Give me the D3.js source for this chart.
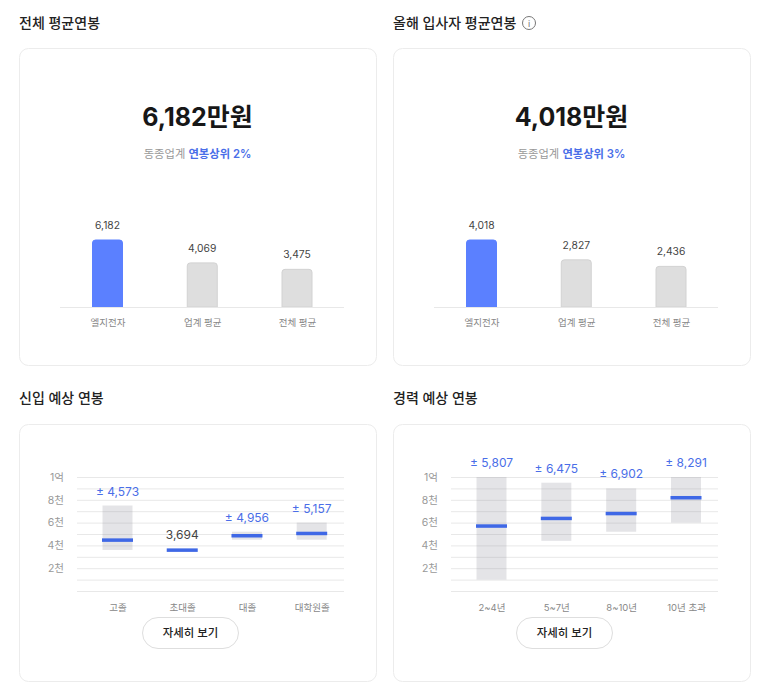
<!DOCTYPE html>
<html lang="ko">
<head>
<meta charset="utf-8">
<script src="https://cdn.jsdelivr.net/npm/d3@7"></script>
<style>
  html, body { margin: 0; padding: 0; background: #fff; overflow: hidden; }
  text { font-family: Inter, "Noto Sans CJK KR", sans-serif; }
</style>
</head>
<body>
<div id="chart-container"></div>
<script>
// average salary panels
const avgCategories = ["엘지전자", "업계 평균", "전체 평균"];
const avgTotalValues = [6182, 4069, 3475];
const avgNewValues = [4018, 2827, 2436];

// expected salary panels
const gradCategories = ["고졸", "초대졸", "대졸", "대학원졸"];
const gradMid = [4573, 3694, 4956, 5157];
const gradLow = [3600, null, 4500, 4500];
const gradHigh = [7500, null, 5200, 6000];

const careerCategories = ["2~4년", "5~7년", "8~10년", "10년 초과"];
const careerMid = [5807, 6475, 6902, 8291];
const careerLow = [1000, 4400, 5200, 6000];
const careerHigh = [10000, 9500, 9000, 10000];

// y axis
const gridTicks = [0, 1000, 2000, 3000, 4000, 5000, 6000, 7000, 8000, 9000, 10000];
const tickLabels = { 2000: "2천", 4000: "4천", 6000: "6천", 8000: "8천", 10000: "1억" };

const blue = "#3f68e6";
const num = d3.format(",");

const svg = d3.select("#chart-container")
  .append("svg")
  .attr("width", 779)
  .attr("height", 698)
  .style("display", "block");

function sectionTitle(x, y, label) {
  svg.append("text")
    .attr("x", x)
    .attr("y", y)
    .style("font-size", "14px")
    .style("font-weight", 500)
    .attr("fill", "#222")
    .text(label);
}

function card(x, y, h) {
  svg.append("rect")
    .attr("x", x + 0.5)
    .attr("y", y + 0.5)
    .attr("width", 357)
    .attr("height", h)
    .attr("rx", 9)
    .attr("fill", "#fff")
    .attr("stroke", "#ececec");
}

// top panels: headline number, rank line, three bars
function avgPanel(x0, values, rank) {
  card(x0, 48, 317);

  const cx = x0 + 178.5;
  svg.append("text")
    .attr("x", cx)
    .attr("y", 126)
    .attr("text-anchor", "middle")
    .style("font-size", "25px")
    .style("font-weight", 700)
    .attr("fill", "#171717")
    .text(num(values[0]) + "만원");

  const sub = svg.append("text")
    .attr("x", cx)
    .attr("y", 158)
    .attr("text-anchor", "middle")
    .style("font-size", "11.3px");
  sub.append("tspan").attr("fill", "#999").text("동종업계 ");
  sub.append("tspan").attr("fill", "#4a6ee8").style("font-weight", 600).text("연봉상위 " + rank);

  const g = svg.append("g").attr("transform", `translate(${x0},0)`);
  const xScale = d3.scalePoint().domain(avgCategories).range([88.5, 278]);
  const yScale = d3.scaleLinear().domain([0, values[0]]).range([307, 240]);
  const barW = 30;

  g.selectAll("path.bar")
    .data(values)
    .join("path")
    .attr("class", "bar")
    .attr("d", (d, i) => {
      const x = xScale(avgCategories[i]) - barW / 2;
      const y = yScale(d);
      return `M${x},307V${y + 3}Q${x},${y} ${x + 3},${y}H${x + barW - 3}Q${x + barW},${y} ${x + barW},${y + 3}V307Z`;
    })
    .attr("fill", (d, i) => i === 0 ? "#5b80ff" : "#dedede")
    .attr("stroke", (d, i) => i === 0 ? "#5b80ff" : "#d2d2d2");

  g.selectAll("text.val")
    .data(values)
    .join("text")
    .attr("class", "val")
    .attr("x", (d, i) => xScale(avgCategories[i]))
    .attr("y", d => yScale(d) - 11)
    .attr("text-anchor", "middle")
    .style("font-size", "10.3px")
    .attr("fill", "#444")
    .text(d => num(d));

  const axis = g.append("g")
    .attr("transform", "translate(0,307)")
    .call(d3.axisBottom(xScale).tickSize(0).tickPadding(12.5));
  axis.select(".domain").attr("d", "M41,0.5H325").attr("stroke", "#e8e8e8");
  axis.selectAll("text").style("font-size", "9.5px").attr("fill", "#888");
}

// bottom panels: range boxes with a mid line
function rangePanel(x0, categories, mid, low, high, centers) {
  card(x0, 424, 257);

  const g = svg.append("g").attr("transform", `translate(${x0},0)`);
  const xScale = d3.scalePoint().domain(categories).range(centers);
  const yScale = d3.scaleLinear().domain([0, 10000]).range([591, 477]);
  const gridX = 58;
  const gridW = 267;
  const boxW = 30;

  const yAxis = g.append("g")
    .attr("transform", `translate(${gridX},0)`)
    .call(d3.axisLeft(yScale)
      .tickValues(gridTicks)
      .tickSize(-gridW)
      .tickPadding(13)
      .tickFormat(d => tickLabels[d] || ""));
  yAxis.select(".domain").remove();
  yAxis.selectAll("line").attr("stroke", "#e8e8e8");
  yAxis.selectAll("text").style("font-size", "10.5px").attr("fill", "#999");

  const rows = categories.map((c, i) => ({ c, mid: mid[i], low: low[i], high: high[i] }));

  g.selectAll("rect.box")
    .data(rows.filter(d => d.low !== null))
    .join("rect")
    .attr("class", "box")
    .attr("x", d => xScale(d.c) - boxW / 2)
    .attr("y", d => yScale(d.high))
    .attr("width", boxW)
    .attr("height", d => yScale(d.low) - yScale(d.high))
    .attr("fill", "#8f8f9a")
    .attr("fill-opacity", 0.24);

  g.selectAll("rect.mid")
    .data(rows)
    .join("rect")
    .attr("class", "mid")
    .attr("x", d => xScale(d.c) - 15.5)
    .attr("y", d => yScale(d.mid) - 0.5)
    .attr("width", 31)
    .attr("height", 3.5)
    .attr("fill", blue);

  g.selectAll("text.val")
    .data(rows)
    .join("text")
    .attr("class", "val")
    .attr("x", d => xScale(d.c))
    .attr("y", d => yScale(d.low === null ? d.mid : d.high) - 10)
    .attr("text-anchor", "middle")
    .style("font-size", "12px")
    .attr("fill", d => d.low === null ? "#444" : "#4a6ee8")
    .text(d => (d.low === null ? "" : "± ") + num(d.mid));

  const xAxis = g.append("g")
    .attr("transform", "translate(0,591)")
    .call(d3.axisBottom(xScale).tickSize(0).tickPadding(13));
  xAxis.select(".domain").remove();
  xAxis.selectAll("text").style("font-size", "9.5px").attr("fill", "#888");

  // button
  g.append("rect")
    .attr("x", 123.5)
    .attr("y", 617.5)
    .attr("width", 96)
    .attr("height", 31)
    .attr("rx", 15.5)
    .attr("fill", "#fff")
    .attr("stroke", "#dedede");
  g.append("text")
    .attr("x", 171.5)
    .attr("y", 636.5)
    .attr("text-anchor", "middle")
    .style("font-size", "11.4px")
    .style("font-weight", 500)
    .attr("fill", "#222")
    .text("자세히 보기");
}

sectionTitle(19, 27.5, "전체 평균연봉");
sectionTitle(393, 27.5, "올해 입사자 평균연봉");
avgPanel(19, avgTotalValues, "2%");
avgPanel(393, avgNewValues, "3%");

// info icon next to the title
svg.append("circle")
  .attr("cx", 529)
  .attr("cy", 23)
  .attr("r", 6.5)
  .attr("fill", "none")
  .attr("stroke", "#777");
svg.append("text")
  .attr("x", 529)
  .attr("y", 26.5)
  .attr("text-anchor", "middle")
  .style("font-size", "9px")
  .attr("fill", "#777")
  .text("i");

sectionTitle(19, 403, "신입 예상 연봉");
sectionTitle(393, 403, "경력 예상 연봉");

rangePanel(19, gradCategories, gradMid, gradLow, gradHigh, [98.5, 292.7]);
rangePanel(393, careerCategories, careerMid, careerLow, careerHigh, [98.5, 293]);
</script>
</body>
</html>
